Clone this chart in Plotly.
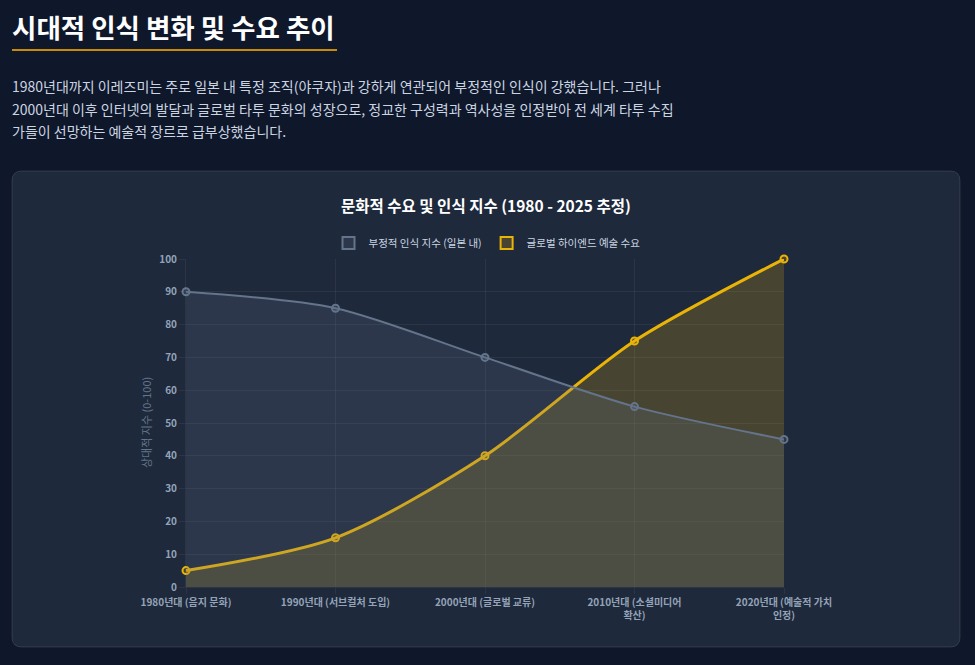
import plotly.graph_objects as go

W, H = 975, 665

periods = [
    "1980년대 (음지 문화)",
    "1990년대 (서브컬처 도입)",
    "2000년대 (글로벌 교류)",
    "2010년대 (소셜미디어<br>확산)",
    "2020년대 (예술적 가치<br>인정)",
]
negative_index = [90, 85, 70, 55, 45]
global_demand = [5, 15, 40, 75, 100]
y_ticks = list(range(0, 101, 10))

page_title = "시대적 인식 변화 및 수요 추이"
intro_lines = [
    "1980년대까지 이레즈미는 주로 일본 내 특정 조직(야쿠자)과 강하게 연관되어 부정적인 인식이 강했습니다. 그러나",
    "2000년대 이후 인터넷의 발달과 글로벌 타투 문화의 성장으로, 정교한 구성력과 역사성을 인정받아 전 세계 타투 수집",
    "가들이 선망하는 예술적 장르로 급부상했습니다.",
]
chart_title = "문화적 수요 및 인식 지수 (1980 - 2025 추정)"

FONT = "Noto Sans CJK KR"
PAGE_BG = "#0f172a"
CARD_BG = "#1e293b"
GRID = "rgba(255,255,255,0.06)"
TICK = "#94a3b8"


def px(x):
    return x / W


def py(y):
    return 1 - y / H


xs = list(range(len(periods)))

# (name, values, line colour, fill colour, line width)
gray = ("부정적 인식 지수 (일본 내)", negative_index, "#64748b", "rgba(100,116,139,0.2)", 2)
gold = ("글로벌 하이엔드 예술 수요", global_demand, "#eab308", "rgba(234,179,8,0.2)", 3)

fig = go.Figure()

# gold drawn first so the gray series sits on top, like the original
for name, vals, color, fillc, lw in [gold, gray]:
    fig.add_trace(
        go.Scatter(
            x=xs,
            y=vals,
            name=name,
            mode="lines+markers",
            line=dict(color=color, width=lw, shape="spline", smoothing=0.8),
            marker=dict(size=7, color=fillc, line=dict(color=color, width=2)),
            fill="tozeroy",
            fillcolor=fillc,
            cliponaxis=False,
            showlegend=False,
        )
    )

# legend-only entries so the legend shows boxes
for name, vals, color, fillc, lw in [gray, gold]:
    fig.add_trace(
        go.Bar(
            x=[None], y=[None], name=name,
            marker=dict(color=fillc, line=dict(color=color, width=2)),
            showlegend=True,
        )
    )

# card behind the chart, rounded corners
x0, x1, y0, y1, r = 12, 960, 171, 647, 10
card_path = (
    f"M {px(x0 + r)},{py(y0)} L {px(x1 - r)},{py(y0)} "
    f"Q {px(x1)},{py(y0)} {px(x1)},{py(y0 + r)} "
    f"L {px(x1)},{py(y1 - r)} Q {px(x1)},{py(y1)} {px(x1 - r)},{py(y1)} "
    f"L {px(x0 + r)},{py(y1)} Q {px(x0)},{py(y1)} {px(x0)},{py(y1 - r)} "
    f"L {px(x0)},{py(y0 + r)} Q {px(x0)},{py(y0)} {px(x0 + r)},{py(y0)} Z"
)
fig.add_shape(
    type="path", path=card_path, xref="paper", yref="paper",
    fillcolor=CARD_BG, line=dict(color="rgba(255,255,255,0.12)", width=1), layer="below",
)
# underline under the page title
fig.add_shape(
    type="line", xref="paper", yref="paper",
    x0=px(12), x1=px(337), y0=py(50), y1=py(50),
    line=dict(color="#ca8a04", width=2),
)

fig.add_annotation(
    text=f"<b>{page_title}</b>", xref="paper", yref="paper", x=px(10), y=py(26),
    xanchor="left", yanchor="middle", showarrow=False,
    font=dict(family=FONT, size=26.5, color="#ffffff"),
)
for i, line in enumerate(intro_lines):
    fig.add_annotation(
        text=line, xref="paper", yref="paper", x=px(10), y=py(86 + i * 22.5),
        xanchor="left", yanchor="middle", showarrow=False,
        font=dict(family=FONT, size=14, color="#cbd5e1"),
    )
fig.add_annotation(
    text=f"<b>{chart_title}</b>", xref="paper", yref="paper", x=px(486), y=py(205),
    xanchor="center", yanchor="middle", showarrow=False,
    font=dict(family=FONT, size=15.5, color="#ffffff"),
)
fig.add_annotation(
    text="상대적 지수 (0-100)", xref="paper", yref="paper", x=px(146), y=py(423),
    xanchor="center", yanchor="middle", showarrow=False, textangle=-90,
    font=dict(family=FONT, size=11, color="#64748b"),
)

fig.update_layout(
    width=W,
    height=H,
    margin=dict(l=0, r=0, t=0, b=0, autoexpand=False),
    paper_bgcolor=PAGE_BG,
    plot_bgcolor=CARD_BG,
    font=dict(family=FONT, color=TICK),
    showlegend=True,
    legend=dict(
        orientation="h", x=px(487), y=py(243), xanchor="center", yanchor="middle",
        font=dict(family=FONT, size=10.5, color="#cbd5e1"), bgcolor="rgba(0,0,0,0)",
        itemwidth=30,
    ),
    xaxis=dict(
        domain=[px(186), px(784)], range=[0, len(periods) - 1],
        tickvals=xs, ticktext=[f"<b>{p}</b>" for p in periods],
        tickfont=dict(size=10, color=TICK),
        showgrid=True, gridcolor=GRID, zeroline=False, automargin=False,
        ticks="outside", ticklen=6, tickcolor=GRID, showline=True, linecolor=GRID,
    ),
    yaxis=dict(
        domain=[py(587), py(259)], range=[0, 100],
        tickvals=y_ticks, ticktext=[f"<b>{v}</b>" for v in y_ticks],
        tickfont=dict(size=10, color=TICK),
        showgrid=True, gridcolor=GRID, zeroline=False, automargin=False,
        ticks="outside", ticklen=6, tickcolor=GRID, showline=True, linecolor=GRID,
    ),
)

fig.write_html(
    "out.html",
    config={"displayModeBar": False},
    post_script="document.body.style.margin='0';document.body.style.background='#0f172a';",
)
